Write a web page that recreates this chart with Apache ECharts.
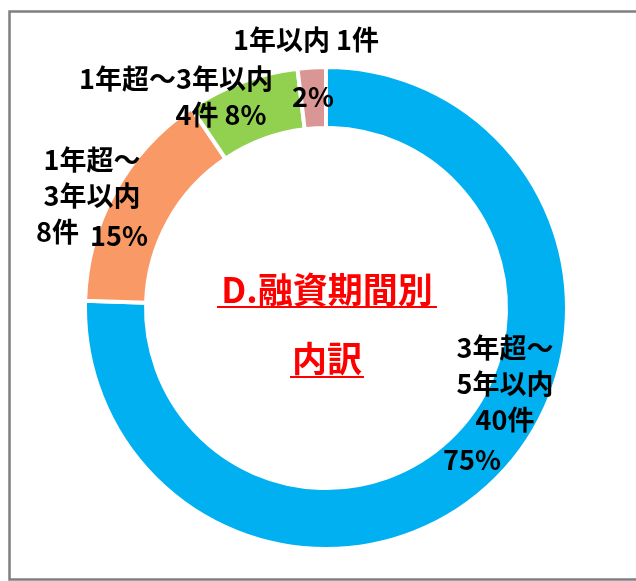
<!DOCTYPE html>
<html>
<head>
<meta charset="utf-8">
<script src="https://cdn.jsdelivr.net/npm/echarts@6/dist/echarts.min.js"></script>
<style>
  html, body { margin: 0; padding: 0; background: #fff; }
  #chart { width: 636px; height: 581px; }
</style>
</head>
<body>
<div id="chart"></div>
<script>
// 融資期間別の内訳
var names = ['3年超～5年以内', '1年超～3年以内', '1年超～3年以内', '1年以内'];
var counts = [40, 8, 4, 1];
var percents = [75, 15, 8, 2];
var colors = ['#00B0F0', '#F99966', '#92D050', '#D99694'];
var titleLines = ['D.融資期間別', '内訳'];

// ラベルの位置（ブロック中心）
var labelPos = [[505, 406], [92, 196], [176, 97], [306, 79]];

var myChart = echarts.init(document.getElementById('chart'));

function splitName(n) {
  var i = n.indexOf('～');
  return [n.slice(0, i + 1), n.slice(i + 1)];
}

var option = {
  animation: false,
  textStyle: { fontFamily: '"Noto Sans CJK JP", sans-serif' },
  graphic: [
    {
      type: 'rect',
      shape: { x: 9.5, y: 11.5, width: 640, height: 568 },
      style: { fill: 'none', stroke: '#7f7f7f', lineWidth: 2.5 },
      silent: true
    },
    {
      type: 'text',
      x: 327, y: 290,
      style: {
        text: titleLines[0], fill: '#FF0000',
        font: 'bold 35px "Noto Sans CJK JP"',
        align: 'center', verticalAlign: 'middle'
      }
    },
    {
      type: 'line',
      shape: { x1: 217, y1: 307, x2: 437, y2: 307 },
      style: { stroke: '#FF0000', lineWidth: 2 }
    },
    {
      type: 'text',
      x: 327, y: 359,
      style: {
        text: titleLines[1], fill: '#FF0000',
        font: 'bold 35px "Noto Sans CJK JP"',
        align: 'center', verticalAlign: 'middle'
      }
    },
    {
      type: 'line',
      shape: { x1: 290, y1: 377, x2: 364, y2: 377 },
      style: { stroke: '#FF0000', lineWidth: 2 }
    }
  ],
  series: [
    {
      type: 'pie',
      center: [326, 308],
      radius: [180, 241],
      startAngle: 90,
      clockwise: true,
      avoidLabelOverlap: false,
      itemStyle: { borderColor: '#fff', borderWidth: 4 },
      labelLine: { show: false },
      label: {
        show: true,
        position: 'outside',
        color: '#000',
        fontSize: 27,
        fontWeight: 'bold',
        formatter: function (p) {
          var i = p.dataIndex;
          var n = names[i];
          if (i === 0) {
            var s = splitName(n);
            return '{a|' + s[0] + '}\n{a|' + s[1] + '}\n{a|' + counts[i] + '件}\n{p|' + percents[i] + '%}';
          }
          if (i === 1) {
            var s2 = splitName(n);
            return '{a|' + s2[0] + '}\n{a|' + s2[1] + '}\n{a|' + counts[i] + '件}{q|' + percents[i] + '%}';
          }
          if (i === 2) {
            return '{a|' + n + '}\n{g|' + counts[i] + '件 ' + percents[i] + '%}';
          }
          return '{a|' + n + ' ' + counts[i] + '件}\n{t|' + percents[i] + '%}';
        },
        rich: {
          a: { fontSize: 27, fontWeight: 'bold', lineHeight: 36, color: '#000' },
          p: { fontSize: 27, fontWeight: 'bold', lineHeight: 44, color: '#000', padding: [0, 66, 0, 0] },
          q: { fontSize: 27, fontWeight: 'bold', lineHeight: 36, color: '#000', padding: [8, 0, 0, 11] },
          g: { fontSize: 27, fontWeight: 'bold', lineHeight: 36, color: '#000', padding: [0, 0, 0, 90] },
          t: { fontSize: 27, fontWeight: 'bold', lineHeight: 78, color: '#000', padding: [0, 0, 0, 14] }
        }
      },
      labelLayout: function (params) {
        var pos = labelPos[params.dataIndex];
        return { x: pos[0], y: pos[1], align: 'center', verticalAlign: 'middle' };
      },
      data: names.map(function (n, i) {
        return { name: n, value: counts[i], itemStyle: { color: colors[i] } };
      })
    }
  ]
};

myChart.setOption(option);
window.addEventListener('resize', function () { myChart.resize(); });
</script>
</body>
</html>
